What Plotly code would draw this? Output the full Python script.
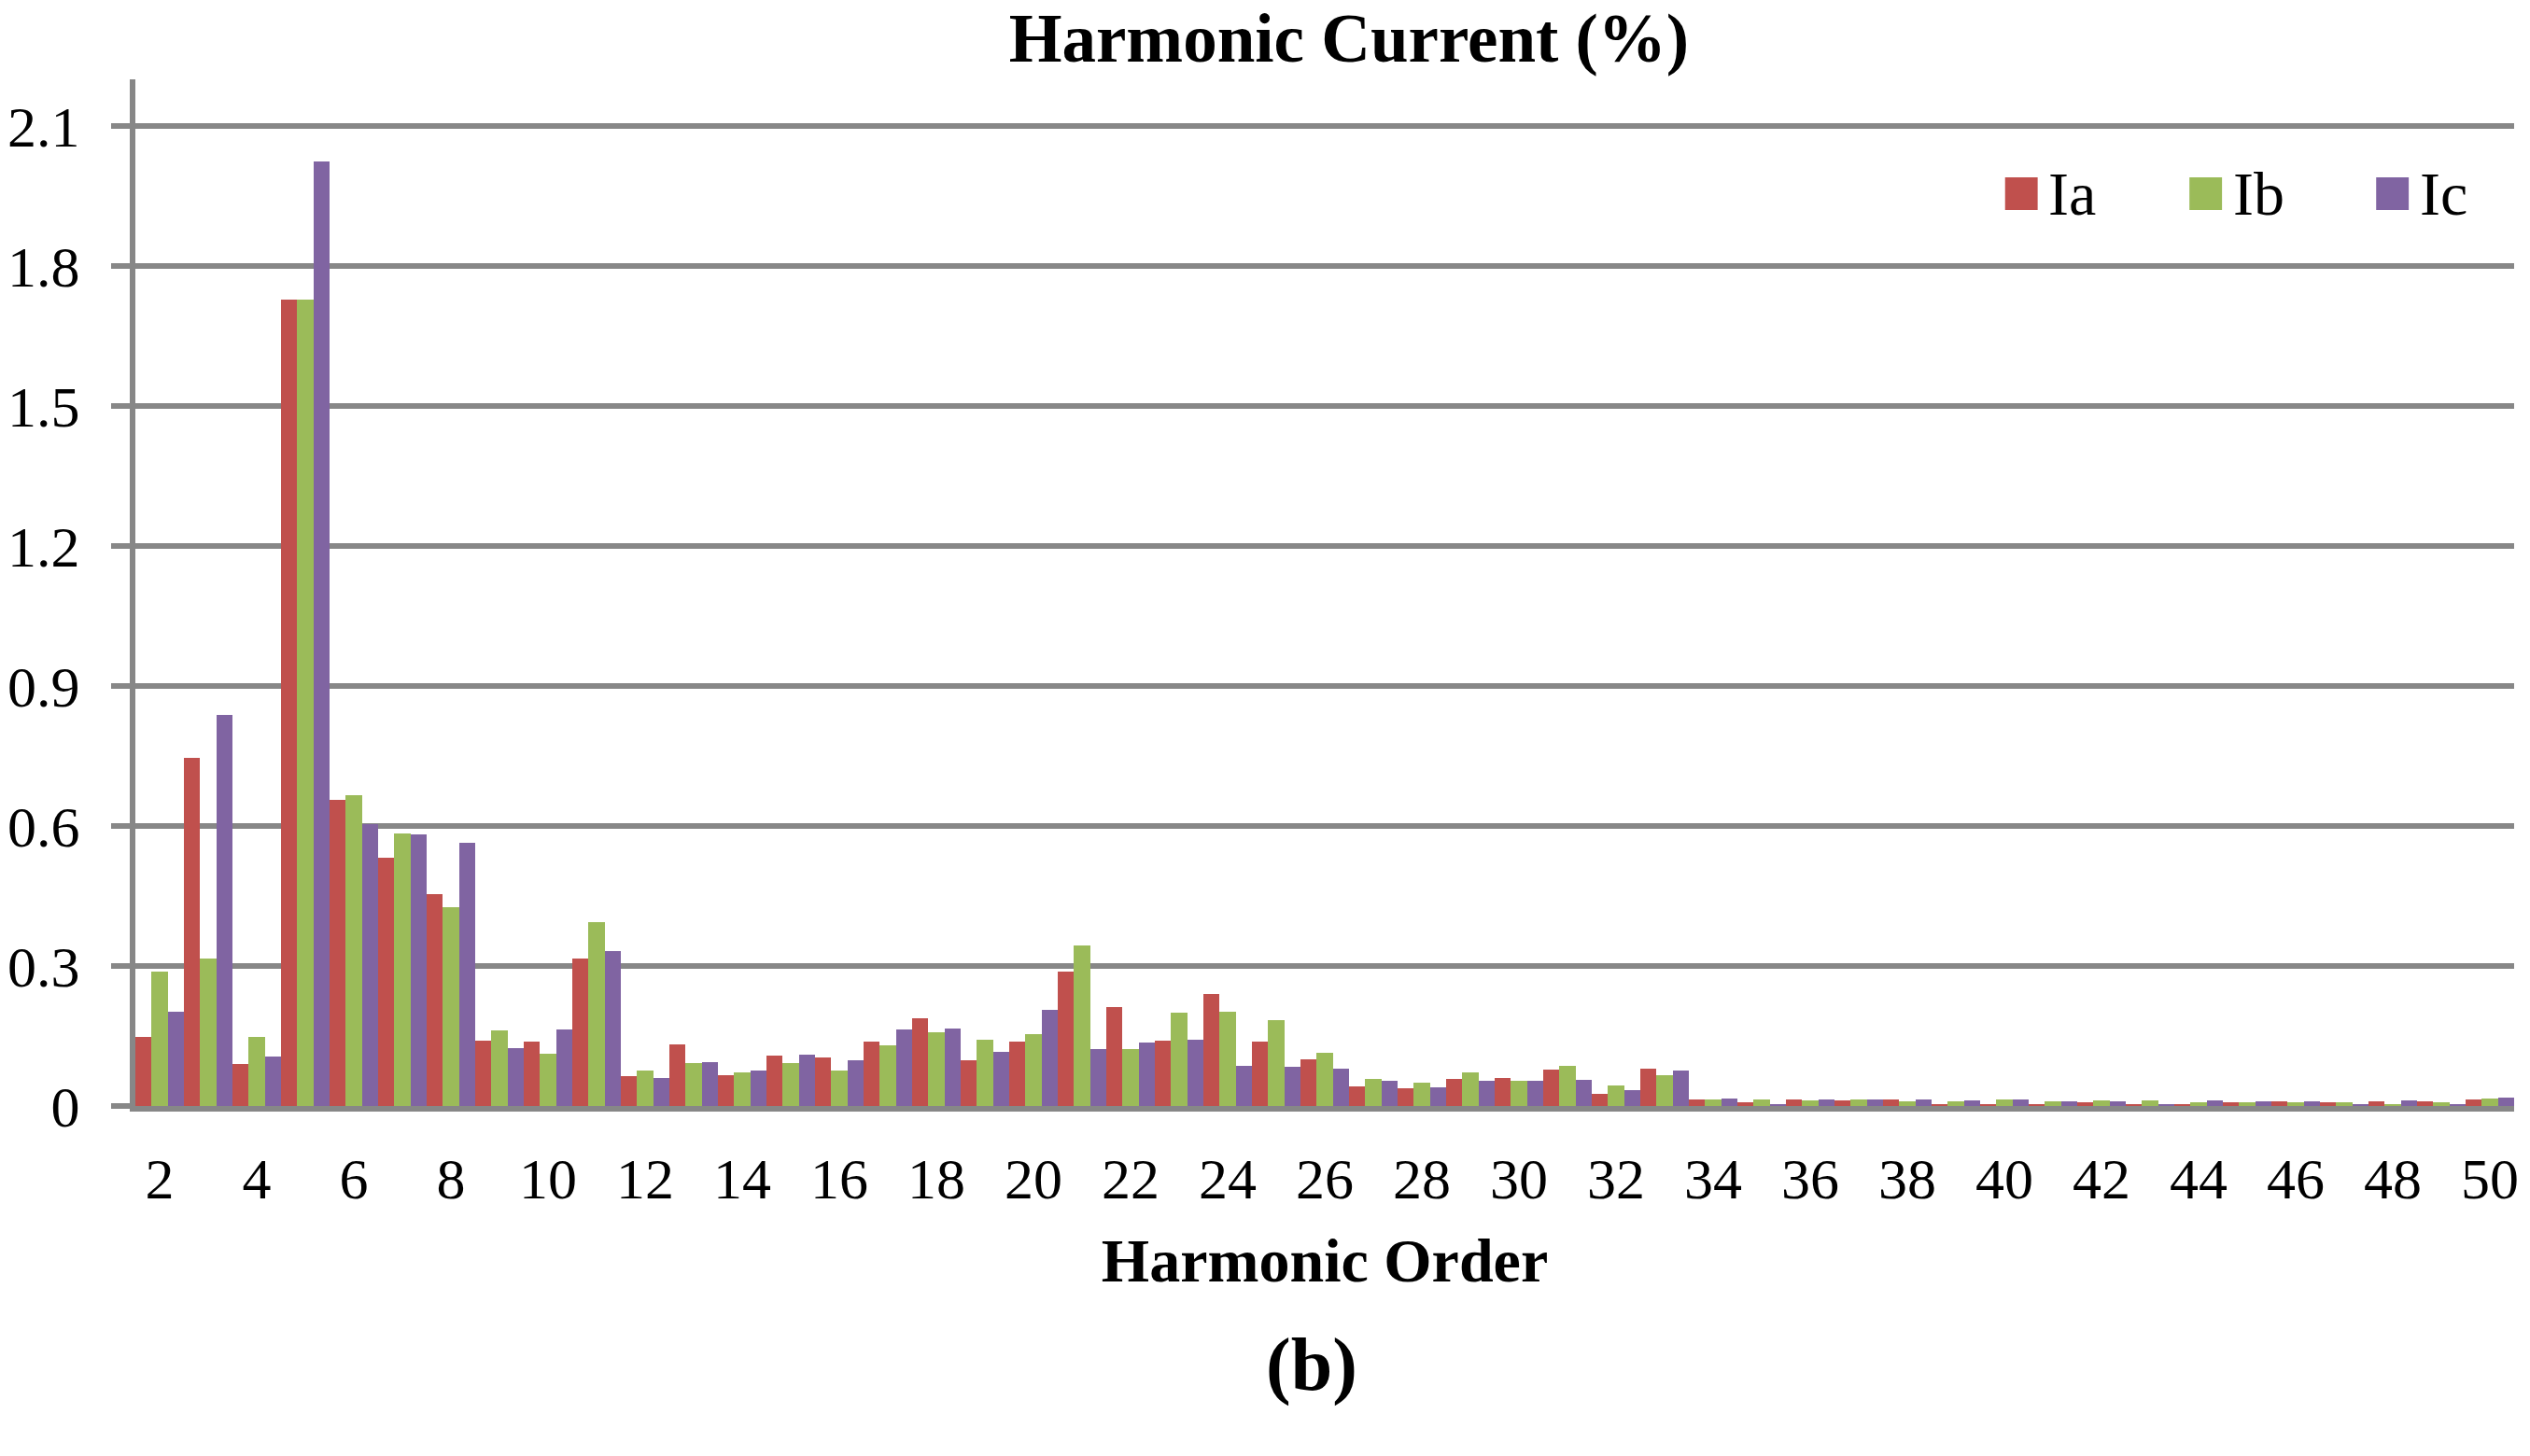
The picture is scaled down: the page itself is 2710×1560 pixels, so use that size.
import plotly.graph_objects as go

# --- data ---
harmonics = list(range(2, 51))

ia = [0.148, 0.747, 0.090, 1.728, 0.657, 0.532, 0.454, 0.140, 0.138, 0.316,
      0.065, 0.133, 0.067, 0.109, 0.105, 0.139, 0.189, 0.099, 0.139, 0.289,
      0.213, 0.141, 0.241, 0.139, 0.101, 0.043, 0.039, 0.059, 0.061, 0.079,
      0.027, 0.081, 0.015, 0.009, 0.015, 0.013, 0.015, 0.004, 0.004, 0.004,
      0.009, 0.004, 0.004, 0.009, 0.011, 0.009, 0.011, 0.011, 0.015]

ib = [0.289, 0.317, 0.148, 1.728, 0.667, 0.585, 0.426, 0.163, 0.112, 0.395,
      0.077, 0.093, 0.073, 0.093, 0.077, 0.131, 0.159, 0.143, 0.155, 0.345,
      0.123, 0.201, 0.203, 0.185, 0.115, 0.059, 0.051, 0.073, 0.055, 0.087,
      0.045, 0.067, 0.015, 0.015, 0.013, 0.015, 0.011, 0.011, 0.015, 0.011,
      0.013, 0.013, 0.009, 0.009, 0.009, 0.009, 0.004, 0.009, 0.017]

ic = [0.203, 0.839, 0.107, 2.024, 0.604, 0.582, 0.564, 0.124, 0.164, 0.333,
      0.061, 0.095, 0.077, 0.111, 0.099, 0.165, 0.167, 0.117, 0.207, 0.123,
      0.137, 0.143, 0.087, 0.085, 0.081, 0.055, 0.041, 0.055, 0.055, 0.057,
      0.035, 0.077, 0.017, 0.004, 0.015, 0.015, 0.015, 0.013, 0.015, 0.011,
      0.011, 0.004, 0.013, 0.011, 0.011, 0.004, 0.013, 0.004, 0.019]

series_names = ['Ia', 'Ib', 'Ic']
series_colors = ['#C0504D', '#9BBB59', '#8064A2']

y_ticks = [0, 0.3, 0.6, 0.9, 1.2, 1.5, 1.8, 2.1]
y_ticktext = ['0', '0.3', '0.6', '0.9', '1.2', '1.5', '1.8', '2.1']
x_labels = harmonics[::2]
x_boundaries = [h - 0.5 for h in x_labels]

SERIF = 'Times New Roman, Liberation Serif, serif'
GRID = '#878787'

# page body has an 8px margin, so the figure is 8px smaller than the window
W, H = 2702, 1552

fig = go.Figure()
for name, vals, col in zip(series_names, [ia, ib, ic], series_colors):
    fig.add_trace(go.Bar(x=harmonics, y=vals, name=name, marker_color=col,
                         marker_line_width=0, showlegend=False))

# legend drawn by hand: big square + name
legend_x = [0.786, 0.8635, 0.942]
for name, col, lx in zip(series_names, series_colors, legend_x):
    fig.add_shape(type='rect', xref='paper', yref='paper',
                  x0=lx, x1=lx + 0.0137, y0=0.8727, y1=0.9045,
                  fillcolor=col, line_width=0)
    fig.add_annotation(text=name, xref='paper', yref='paper',
                       x=lx + 0.0175, y=0.8885, xanchor='left', yanchor='middle',
                       showarrow=False, font=dict(family=SERIF, size=66, color='black'))

fig.add_annotation(text='<b>(b)</b>', xref='paper', yref='paper',
                   x=0.4945, y=-0.252, xanchor='center', yanchor='middle',
                   showarrow=False, font=dict(family=SERIF, size=80, color='black'))

fig.update_layout(
    width=W, height=H,
    margin=dict(l=137, r=17, t=77, b=375),
    paper_bgcolor='white', plot_bgcolor='white',
    font=dict(family=SERIF, size=62, color='black'),
    barmode='group', bargap=0, bargroupgap=0,
    title=dict(text='<b>Harmonic Current (%)</b>', x=0.5318, xanchor='center',
               xref='container', yref='container', y=1 - 32 / H, yanchor='middle',
               font=dict(size=73, family=SERIF)),
    xaxis=dict(range=[1.5, 50.5], tickvals=x_labels, ticktext=[str(v) for v in x_labels],
               ticks='', showgrid=False, zeroline=False, automargin=False,
               showline=True, linecolor=GRID, linewidth=6,
               ticklabelstandoff=19,
               title=dict(text='<b>Harmonic Order</b>', font=dict(size=66, family=SERIF),
                          standoff=32)),
    xaxis2=dict(overlaying='x', matches='x', anchor='y', side='bottom',
                tickvals=x_boundaries, showticklabels=False, ticks='outside',
                ticklen=20, tickwidth=6, tickcolor=GRID, automargin=False,
                showgrid=False, zeroline=False, showline=False),
    yaxis=dict(range=[0, 2.2], tickvals=y_ticks, ticktext=y_ticktext,
               showgrid=True, gridcolor=GRID, gridwidth=6, zeroline=False,
               showline=True, linecolor=GRID, linewidth=6, automargin=False,
               ticks='outside', ticklen=20, tickwidth=6, tickcolor=GRID,
               ticklabelstandoff=21),
)

fig.write_html('out.html')
